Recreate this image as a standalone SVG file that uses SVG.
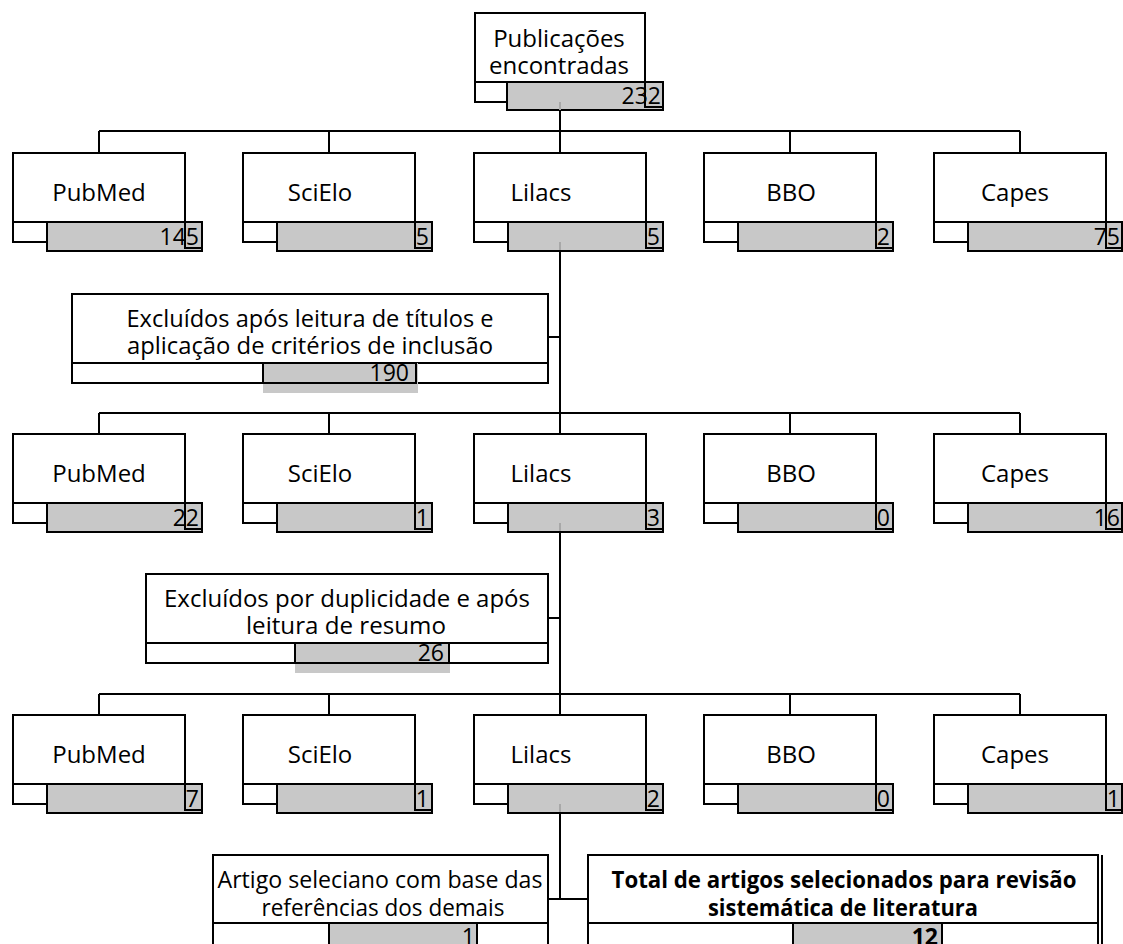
<svg xmlns="http://www.w3.org/2000/svg" width="1123" height="944" viewBox="0 0 1123 944">
<style>
.box{fill:#fff;stroke:#000;stroke-width:2}
.gray{fill:#c8c8c8;stroke:#000;stroke-width:2}
.grayf{fill:#c8c8c8;stroke:none}
.ol{fill:none;stroke:#000;stroke-width:2}
.faint{stroke:#a8a8a8;stroke-width:2}
.con{stroke:#000;stroke-width:2;fill:none}
text{font-family:"Open Sans","Noto Sans",sans-serif;fill:#000}
.lbl{font-size:24px;text-anchor:middle}
.num{font-size:23px;text-anchor:end}
.b{font-weight:bold}
</style>
<rect width="1123" height="944" fill="#fff"/>
<g id="connectors">
<path class="con" d="M560 110V131M99 131H1020M99 131V153M329 131V153M560 131V153M790 131V153M1020 131V153"/>
<path class="con" d="M560 252V413M548 337H560M99 413H1020M99 413V434M329 413V434M560 413V434M790 413V434M1020 413V434"/>
<path class="con" d="M560 533V694M548 618H560M99 694H1020M99 694V715M329 694V715M560 694V715M790 694V715M1020 694V715"/>
<path class="con" d="M560 813V899M548 899H588"/>
</g>
<g id="n-top">
<rect class="box" x="475" y="13" width="170" height="69"/>
<rect class="box" x="475" y="82" width="170" height="20"/>
<rect class="gray" x="507" y="82" width="156" height="28"/>
<rect class="ol" x="645" y="82" width="18" height="25"/>
<line class="faint" x1="560" y1="102" x2="560" y2="110"/>
<text class="lbl" x="559" y="47">Publicações</text>
<text class="lbl" x="559" y="74">encontradas</text>
<text class="num" x="661" y="104">232</text>
</g>
<g id="r1-pubmed">
<rect class="box" x="13" y="153" width="172" height="69"/>
<rect class="box" x="13" y="222" width="172" height="20"/>
<rect class="gray" x="47" y="222" width="155" height="29"/>
<rect class="ol" x="185" y="222" width="17" height="26"/>
<text class="lbl" x="99" y="201">PubMed</text>
<text class="num" x="199" y="245">145</text>
</g>
<g id="r1-scielo">
<rect class="box" x="243" y="153" width="172" height="69"/>
<rect class="box" x="243" y="222" width="172" height="20"/>
<rect class="gray" x="277" y="222" width="155" height="29"/>
<rect class="ol" x="415" y="222" width="17" height="26"/>
<text class="lbl" x="320" y="201">SciElo</text>
<text class="num" x="429" y="245">5</text>
</g>
<g id="r1-lilacs">
<rect class="box" x="474" y="153" width="172" height="69"/>
<rect class="box" x="474" y="222" width="172" height="20"/>
<rect class="gray" x="508" y="222" width="155" height="29"/>
<rect class="ol" x="646" y="222" width="17" height="26"/>
<line class="faint" x1="560" y1="242" x2="560" y2="250"/>
<text class="lbl" x="541" y="201">Lilacs</text>
<text class="num" x="660" y="245">5</text>
</g>
<g id="r1-bbo">
<rect class="box" x="704" y="153" width="172" height="69"/>
<rect class="box" x="704" y="222" width="172" height="20"/>
<rect class="gray" x="738" y="222" width="155" height="29"/>
<rect class="ol" x="876" y="222" width="17" height="26"/>
<text class="lbl" x="791" y="201">BBO</text>
<text class="num" x="890" y="245">2</text>
</g>
<g id="r1-capes">
<rect class="box" x="934" y="153" width="172" height="69"/>
<rect class="box" x="934" y="222" width="172" height="20"/>
<rect class="gray" x="968" y="222" width="154" height="29"/>
<rect class="ol" x="1106" y="222" width="16" height="26"/>
<text class="lbl" x="1015" y="201">Capes</text>
<text class="num" x="1120" y="245">75</text>
</g>
<g id="excl1">
<rect class="box" x="72" y="294" width="476" height="69"/>
<rect class="box" x="72" y="363" width="476" height="20"/>
<rect class="grayf" x="263" y="363" width="155" height="30"/>
<rect class="ol" x="263" y="363" width="153" height="20"/>
<text class="lbl" x="310" y="327" textLength="367" lengthAdjust="spacingAndGlyphs">Excluídos após leitura de títulos e</text>
<text class="lbl" x="310" y="354" textLength="366" lengthAdjust="spacingAndGlyphs">aplicação de critérios de inclusão</text>
<text class="num" x="409" y="381">190</text>
</g>
<g id="r2-pubmed">
<rect class="box" x="13" y="434" width="172" height="69"/>
<rect class="box" x="13" y="503" width="172" height="20"/>
<rect class="gray" x="47" y="503" width="155" height="29"/>
<rect class="ol" x="185" y="503" width="17" height="26"/>
<text class="lbl" x="99" y="482">PubMed</text>
<text class="num" x="199" y="526">22</text>
</g>
<g id="r2-scielo">
<rect class="box" x="243" y="434" width="172" height="69"/>
<rect class="box" x="243" y="503" width="172" height="20"/>
<rect class="gray" x="277" y="503" width="155" height="29"/>
<rect class="ol" x="415" y="503" width="17" height="26"/>
<text class="lbl" x="320" y="482">SciElo</text>
<text class="num" x="429" y="526">1</text>
</g>
<g id="r2-lilacs">
<rect class="box" x="474" y="434" width="172" height="69"/>
<rect class="box" x="474" y="503" width="172" height="20"/>
<rect class="gray" x="508" y="503" width="155" height="29"/>
<rect class="ol" x="646" y="503" width="17" height="26"/>
<line class="faint" x1="560" y1="523" x2="560" y2="531"/>
<text class="lbl" x="541" y="482">Lilacs</text>
<text class="num" x="660" y="526">3</text>
</g>
<g id="r2-bbo">
<rect class="box" x="704" y="434" width="172" height="69"/>
<rect class="box" x="704" y="503" width="172" height="20"/>
<rect class="gray" x="738" y="503" width="155" height="29"/>
<rect class="ol" x="876" y="503" width="17" height="26"/>
<text class="lbl" x="791" y="482">BBO</text>
<text class="num" x="890" y="526">0</text>
</g>
<g id="r2-capes">
<rect class="box" x="934" y="434" width="172" height="69"/>
<rect class="box" x="934" y="503" width="172" height="20"/>
<rect class="gray" x="968" y="503" width="154" height="29"/>
<rect class="ol" x="1106" y="503" width="16" height="26"/>
<text class="lbl" x="1015" y="482">Capes</text>
<text class="num" x="1120" y="526">16</text>
</g>
<g id="excl2">
<rect class="box" x="146" y="574" width="402" height="69"/>
<rect class="box" x="146" y="643" width="402" height="20"/>
<rect class="grayf" x="295" y="643" width="155" height="30"/>
<rect class="ol" x="295" y="643" width="154" height="20"/>
<text class="lbl" x="347" y="607">Excluídos por duplicidade e após</text>
<text class="lbl" x="346" y="634" textLength="200" lengthAdjust="spacingAndGlyphs">leitura de resumo</text>
<text class="num" x="444" y="661">26</text>
</g>
<g id="r3-pubmed">
<rect class="box" x="13" y="715" width="172" height="69"/>
<rect class="box" x="13" y="784" width="172" height="20"/>
<rect class="gray" x="47" y="784" width="155" height="29"/>
<rect class="ol" x="185" y="784" width="17" height="26"/>
<text class="lbl" x="99" y="763">PubMed</text>
<text class="num" x="199" y="807">7</text>
</g>
<g id="r3-scielo">
<rect class="box" x="243" y="715" width="172" height="69"/>
<rect class="box" x="243" y="784" width="172" height="20"/>
<rect class="gray" x="277" y="784" width="155" height="29"/>
<rect class="ol" x="415" y="784" width="17" height="26"/>
<text class="lbl" x="320" y="763">SciElo</text>
<text class="num" x="429" y="807">1</text>
</g>
<g id="r3-lilacs">
<rect class="box" x="474" y="715" width="172" height="69"/>
<rect class="box" x="474" y="784" width="172" height="20"/>
<rect class="gray" x="508" y="784" width="155" height="29"/>
<rect class="ol" x="646" y="784" width="17" height="26"/>
<line class="faint" x1="560" y1="804" x2="560" y2="812"/>
<text class="lbl" x="541" y="763">Lilacs</text>
<text class="num" x="660" y="807">2</text>
</g>
<g id="r3-bbo">
<rect class="box" x="704" y="715" width="172" height="69"/>
<rect class="box" x="704" y="784" width="172" height="20"/>
<rect class="gray" x="738" y="784" width="155" height="29"/>
<rect class="ol" x="876" y="784" width="17" height="26"/>
<text class="lbl" x="791" y="763">BBO</text>
<text class="num" x="890" y="807">0</text>
</g>
<g id="r3-capes">
<rect class="box" x="934" y="715" width="172" height="69"/>
<rect class="box" x="934" y="784" width="172" height="20"/>
<rect class="gray" x="968" y="784" width="154" height="29"/>
<rect class="ol" x="1106" y="784" width="16" height="26"/>
<text class="lbl" x="1015" y="763">Capes</text>
<text class="num" x="1120" y="807">1</text>
</g>
<g id="artigo">
<rect class="box" x="213" y="855" width="335" height="68"/>
<rect class="box" x="213" y="923" width="335" height="24"/>
<rect class="gray" x="329" y="923" width="148" height="24"/>
<text class="lbl" x="380" y="888" textLength="325" lengthAdjust="spacingAndGlyphs">Artigo seleciano com base das</text>
<text class="lbl" x="383" y="916" textLength="243" lengthAdjust="spacingAndGlyphs">referências dos demais</text>
<text class="num" x="475" y="945">1</text>
</g>
<g id="total">
<rect class="box" x="588" y="855" width="510" height="68"/>
<line class="con" x1="1102" y1="855" x2="1102" y2="944"/>
<rect class="box" x="588" y="923" width="510" height="24"/>
<rect class="gray" x="793" y="923" width="149" height="24"/>
<text class="lbl b" x="844" y="888" textLength="465" lengthAdjust="spacingAndGlyphs">Total de artigos selecionados para revisão</text>
<text class="lbl b" x="843" y="916" textLength="270" lengthAdjust="spacingAndGlyphs">sistemática de literatura</text>
<text class="num b" x="938" y="945">12</text>
</g>
</svg>
